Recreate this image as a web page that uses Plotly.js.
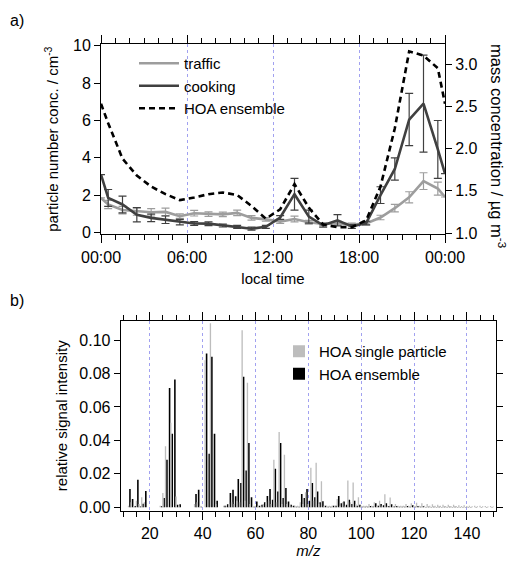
<!DOCTYPE html>
<html>
<head>
<meta charset="utf-8">
<script src="https://cdn.plot.ly/plotly-3.0.1.min.js"></script>
<style>html,body{margin:0;padding:0;background:#fff;}#chart{width:521px;height:562px;}</style>
</head>
<body>
<div id="chart"></div>
<script>
// ---- panel a) diurnal cycles ----
const hours = [0, 0.5, 1.5, 2.5, 3.5, 4.5, 5.5, 6.5, 7.5, 8.5, 9.5, 10.5, 11.5, 12.5, 13.5, 14.5, 15.5, 16.5, 17.5, 18.5, 19.5, 20.5, 21.5, 22.5, 23.5, 24];
const traffic = [1.85, 1.5, 1.2, 1.12, 1.08, 1.1, 0.87, 1.03, 0.98, 0.97, 1.05, 0.78, 0.7, 0.58, 0.72, 0.55, 0.45, 0.5, 0.42, 0.48, 0.8, 1.3, 1.88, 2.75, 2.35, 1.9];
const trafficErr = [null, 0.22, 0.2, 0.2, 0.2, 0.2, 0.12, 0.15, 0.12, 0.12, 0.15, 0.12, 0.1, 0.1, 0.15, 0.1, 0.08, 0.1, 0.08, 0.08, 0.12, 0.2, 0.3, 0.45, 0.35, null];
const cooking = [3.1, 1.85, 1.5, 0.95, 0.78, 0.68, 0.55, 0.48, 0.47, 0.37, 0.3, 0.2, 0.3, 0.8, 2.05, 0.85, 0.38, 0.65, 0.32, 0.5, 2.0, 3.4, 6.05, 6.9, 4.45, 3.15];
const cookingErr = [null, 0.45, 0.45, 0.38, 0.2, 0.2, 0.15, 0.1, 0.1, 0.08, 0.08, 0.08, 0.08, 0.1, 0.85, 0.35, 0.1, 0.3, 0.1, 0.1, 0.45, 0.6, 1.4, 2.6, 1.55, null];
const hoaMass = [2.53, 2.3, 1.88, 1.68, 1.55, 1.46, 1.39, 1.42, 1.46, 1.48, 1.45, 1.32, 1.17, 1.28, 1.58, 1.3, 1.1, 1.07, 1.07, 1.15, 1.55, 2.24, 3.15, 3.1, 2.95, 2.53];
const timeTickVals = [0, 6, 12, 18, 24];
const timeTickText = ["00:00", "06:00", "12:00", "18:00", "00:00"];

// ---- panel b) mass spectra, m/z 12..150 ----
const mz = [];
for (let m = 12; m <= 150; m++) mz.push(m);
const ensemble = [
 0.011,0.005,0.0008,0.0165,0.0005,0.0022,0.0098,0,0,0,0,0,          // 12-23
 0.0006,0.0055,0.0285,0.0714,0.044,0.0764,0.0016,0.0018,0,0,0,0,0,  // 24-36
 0.008,0.0105,0.0004,0,0.092,0.032,0.090,0.044,0.004,0,0,           // 37-47
 0.001,0.0018,0.0085,0.0105,0.0066,0.017,0.0146,0.078,0.022,0.0385,0.006,0.0004, // 48-59
 0.0035,0.001,0.0015,0.003,0.0068,0.011,0.0045,0.023,0.0095,0.0385,0.0055,0.0115,0.0035,0.0015,0.001,0.0004,0.0004, // 60-76
 0.008,0.0055,0.011,0.004,0.0145,0.006,0.0095,0.003,0.0036,0.001,0.0004,0.0004, // 77-88
 0.001,0.001,0.0068,0.0025,0.0035,0.0015,0.0045,0.002,0.004,0.001,0.0015,       // 89-99
 0.0003,0.0003,0.0003,0.0008,0.0005,0.0025,0.001,0.002,0.0012,0.0025,0.0008,0.0018,0.0005,0.0008, // 100-113
 0.0003,0.0003,0.0003,0.0008,0.0003,0.0012,0.0003,0.0008,0.0003,0.0006,0.0002,0.0004,0.0002,0.0004, // 114-127
 0.0002,0.0003,0.0002,0.0003,0.0002,0.0003,0.0002,0.0003,0.0002,0.0002,0.0002,0.0002,0.0002,0.0002, // 128-141
 0.0001,0.0002,0.0001,0.0002,0.0001,0.0002,0.0001,0.0002,0.0001  // 142-150
];
const singleParticle = [
 0.001,0.003,0.001,0.004,0.002,0.006,0.003,0,0,0,0,0,               // 12-23
 0.001,0.0086,0.0365,0,0.0505,0,0.0064,0.001,0,0,0,0,0,             // 24-36
 0.002,0.003,0.001,0,0.088,0,0.110,0,0.002,0,0,                     // 37-47
 0.001,0.001,0.002,0.003,0.002,0.004,0.003,0.1058,0.004,0.0745,0.002,0.001, // 48-59
 0.001,0.001,0.001,0.002,0.003,0.004,0.002,0.0285,0.003,0.045,0.002,0.0315,0.002,0.0015,0.001,0.001,0.001, // 60-76
 0.003,0.002,0.009,0.002,0.0236,0.004,0.0266,0.002,0.0156,0.001,0.001,0.001, // 77-88
 0.001,0.001,0.005,0.001,0.003,0.001,0.016,0.003,0.0148,0.002,0.006,        // 89-99
 0.001,0.001,0.001,0.002,0.001,0.003,0.001,0.004,0.001,0.0078,0.001,0.0058,0.001,0.002, // 100-113
 0.001,0.001,0.001,0.002,0.001,0.0025,0.001,0.0028,0.001,0.0024,0.001,0.002,0.001,0.0018, // 114-127
 0.001,0.0015,0.001,0.0015,0.0008,0.0015,0.0008,0.0015,0.0008,0.0012,0.0008,0.0012,0.0008,0.001, // 128-141
 0.0006,0.001,0.0006,0.001,0.0006,0.0008,0.0005,0.0008,0.0005  // 142-150
];

const W = 521, H = 562;
const px = v => v / W, py = v => 1 - v / H;
const FONT = "Liberation Sans, Arial, sans-serif";
const gridCol = "rgba(130,130,235,0.75)";
const trafficCol = "#9d9d9d", cookingCol = "#404040";

// The top axes (x3, x4) mirror the bottom ones; one trace of each panel is
// plotted against them so that they (with their minor ticks) are drawn.
const traces = [
  {x: hours, y: traffic, type: "scatter", mode: "lines", name: "traffic", xaxis: "x", yaxis: "y",
   line: {color: trafficCol, width: 2.6}, legend: "legend",
   error_y: {type: "data", array: trafficErr, visible: true, color: trafficCol, thickness: 1.2, width: 4}},
  {x: hours, y: cooking, type: "scatter", mode: "lines", name: "cooking", xaxis: "x", yaxis: "y",
   line: {color: cookingCol, width: 2.6}, legend: "legend",
   error_y: {type: "data", array: cookingErr, visible: true, color: cookingCol, thickness: 1.2, width: 4}},
  {x: hours, y: hoaMass, type: "scatter", mode: "lines", name: "HOA ensemble", xaxis: "x3", yaxis: "y2",
   line: {color: "#000", width: 2.6, dash: "6px,4px"}, legend: "legend"},
  {x: mz, y: singleParticle, type: "bar", name: "HOA single particle", xaxis: "x4", yaxis: "y3",
   marker: {color: "#bdbdbd", line: {width: 0}}, width: 0.5, offset: -0.3, legend: "legend2"},
  {x: mz, y: ensemble, type: "bar", name: "HOA ensemble", xaxis: "x2", yaxis: "y3",
   marker: {color: "#000", line: {width: 0}}, width: 0.6, offset: 0.2, legend: "legend2"}
];

const axBase = {showline: true, linecolor: "#000", linewidth: 1, ticks: "outside", tickcolor: "#000",
  tickfont: {family: FONT, size: 16, color: "#000"}, zeroline: false};
const minorTime = {dtick: 1, tick0: 0, ticklen: 5, ticks: "outside", tickcolor: "#000", showgrid: false};
const minorMz = {dtick: 5, tick0: 0, ticklen: 5, ticks: "outside", tickcolor: "#000", showgrid: false};

const layout = {
  width: W, height: H, margin: {l: 0, r: 0, t: 0, b: 0},
  paper_bgcolor: "#fff", plot_bgcolor: "#fff", barmode: "overlay",
  font: {family: FONT, size: 15, color: "#000"},
  xaxis: Object.assign({}, axBase, {domain: [px(101), px(445)], anchor: "y", range: [0, 24],
    tickmode: "array", tickvals: timeTickVals, ticktext: timeTickText, ticklen: 8,
    minor: minorTime,
    showgrid: true, gridcolor: gridCol, griddash: "dot", gridwidth: 1,
    title: {text: "local time", font: {family: FONT, size: 15}, standoff: 8}}),
  xaxis3: Object.assign({}, axBase, {overlaying: "x", side: "top", anchor: "y2", range: [0, 24],
    tickmode: "array", tickvals: timeTickVals, ticklen: 8, showticklabels: false,
    minor: minorTime, showgrid: false}),
  yaxis: Object.assign({}, axBase, {domain: [py(234.3), py(44)], anchor: "x", range: [-0.1, 10.1],
    dtick: 2, tick0: 0, ticklen: 6, showgrid: false,
    title: {text: "particle number conc. / cm<sup>-3</sup>", font: {family: FONT, size: 15}, standoff: 10}}),
  yaxis2: Object.assign({}, axBase, {overlaying: "y", side: "right", anchor: "x", range: [0.985, 3.237],
    dtick: 0.5, tick0: 0, tickformat: ".1f", ticklen: 6, showgrid: false}),
  xaxis2: Object.assign({}, axBase, {domain: [px(120.7), px(496)], anchor: "y3", range: [9, 151],
    dtick: 20, tick0: 0, ticklen: 8,
    minor: minorMz,
    showgrid: true, gridcolor: gridCol, griddash: "dot", gridwidth: 1,
    title: {text: "<i>m/z</i>", font: {family: FONT, size: 15}, standoff: 4}}),
  xaxis4: Object.assign({}, axBase, {overlaying: "x2", side: "top", anchor: "y3", range: [9, 151],
    dtick: 20, tick0: 0, ticklen: 8, showticklabels: false, minor: minorMz, showgrid: false}),
  yaxis3: Object.assign({}, axBase, {domain: [py(510.5), py(321)], anchor: "x2", range: [-0.0019, 0.1114],
    dtick: 0.02, tick0: 0, tickformat: ".2f", ticklen: 6, mirror: "ticks", showgrid: false,
    title: {text: "relative signal intensity", font: {family: FONT, size: 15}, standoff: 8}}),
  legend: {x: px(134), y: py(47), xanchor: "left", yanchor: "top", bgcolor: "rgba(0,0,0,0)",
    font: {family: FONT, size: 15}, tracegroupgap: 0, itemwidth: 40},
  legend2: {x: px(279), y: py(335), xanchor: "left", yanchor: "top", bgcolor: "rgba(0,0,0,0)",
    font: {family: FONT, size: 15}, tracegroupgap: 0},
  annotations: [
    {text: "a)", xref: "paper", yref: "paper", x: px(8), y: py(10), xanchor: "left", yanchor: "top",
     showarrow: false, font: {family: FONT, size: 16}},
    {text: "b)", xref: "paper", yref: "paper", x: px(8), y: py(290), xanchor: "left", yanchor: "top",
     showarrow: false, font: {family: FONT, size: 16}},
    {text: "mass concentration / µg m<sup>-3</sup>", xref: "paper", yref: "paper", x: px(498), y: py(146),
     xanchor: "center", yanchor: "middle", textangle: 90, showarrow: false, font: {family: FONT, size: 16.5}}
  ]
};

Plotly.newPlot("chart", traces, layout, {staticPlot: true, displayModeBar: false});
</script>
</body>
</html>
